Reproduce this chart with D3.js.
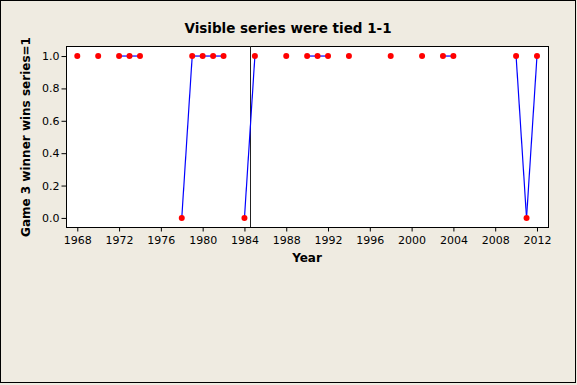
<!DOCTYPE html>
<html><head><meta charset="utf-8">
<script src="https://cdn.jsdelivr.net/npm/d3@7"></script>
<style>body{margin:0;background:#EFEBE1;} svg{display:block;}</style>
</head><body>
<svg id="c" width="577" height="385"></svg>
<script>
const years  = [1968,1970,1972,1973,1974,1978,1979,1980,1981,1982,1984,1985,1988,1990,1991,1992,1994,1998,2001,2003,2004,2010,2011,2012];
const values = [1,1,1,1,1,0,1,1,1,1,0,1,1,1,1,1,1,1,1,1,1,1,0,1];
const xTicks = [1968,1972,1976,1980,1984,1988,1992,1996,2000,2004,2008,2012];
const yTicks = [0,0.2,0.4,0.6,0.8,1.0];
const refYear = 1984.5;
const title = "Visible series were tied 1-1";
const xLabel = "Year";
const yLabel = "Game 3 winner wins series=1";

const svg = d3.select("#c");
const font = "Tahoma, 'DejaVu Sans', sans-serif";
const L=66, R=549, T=46, B=227;
svg.append("rect").attr("x",0.5).attr("y",0.5).attr("width",575).attr("height",382)
  .attr("fill","#EFEBE1").attr("stroke","#000");
const x = d3.scaleLinear().domain([1966.92,2013.15]).range([L,R]);
const y = d3.scaleLinear().domain([-0.056,1.062]).range([B,T]);

svg.append("rect").attr("x",L+0.5).attr("y",T+0.5).attr("width",R-L-1).attr("height",B-T)
  .attr("fill","#fff").attr("stroke","#000");

const xa = svg.append("g").attr("transform",`translate(0,${B+0.5})`)
  .call(d3.axisBottom(x).tickValues(xTicks).tickFormat(d3.format("d")).tickSize(4).tickSizeOuter(0));
const ya = svg.append("g").attr("transform",`translate(${L+0.5},0)`)
  .call(d3.axisLeft(y).tickValues(yTicks).tickFormat(d3.format(".1f")).tickSize(5).tickSizeOuter(0));
[xa,ya].forEach(a=>{a.select(".domain").remove();
  a.selectAll("line").attr("stroke","#000");
  a.selectAll("text").attr("fill","#000").style("font-family",font).style("font-size","11px");});
xa.selectAll("text").attr("dy","0.9em");
ya.selectAll("text").attr("x",-7);

// reference line
svg.append("line").attr("x1",Math.round(x(refYear))+0.5).attr("x2",Math.round(x(refYear))+0.5)
  .attr("y1",T).attr("y2",B).attr("stroke","#222").attr("stroke-width",1);

// segments between consecutive years
const pts = years.map((yr,i)=>({yr,v:values[i]}));
const segs=[];
for(let i=1;i<pts.length;i++){ if(pts[i].yr-pts[i-1].yr===1) segs.push([pts[i-1],pts[i]]); }
const line = d3.line().x(d=>x(d.yr)).y(d=>y(d.v));
svg.append("g").selectAll("path").data(segs).join("path")
  .attr("d",line).attr("fill","none").attr("stroke","#0000FF").attr("stroke-width",1.2);

svg.append("g").selectAll("circle").data(pts).join("circle")
  .attr("cx",d=>x(d.yr)).attr("cy",d=>y(d.v)).attr("r",3).attr("fill","#FF0000");

svg.append("text").attr("x",288).attr("y",33).attr("text-anchor","middle")
  .style("font-family",font).style("font-size","13.5px").style("font-weight","bold").text(title);
svg.append("text").attr("x",307).attr("y",262).attr("text-anchor","middle")
  .style("font-family",font).style("font-size","12px").style("font-weight","bold").text(xLabel);
svg.append("text").attr("transform",`translate(30,137) rotate(-90)`).attr("text-anchor","middle")
  .style("font-family",font).style("font-size","12px").style("font-weight","bold").text(yLabel);
</script>
</body></html>
